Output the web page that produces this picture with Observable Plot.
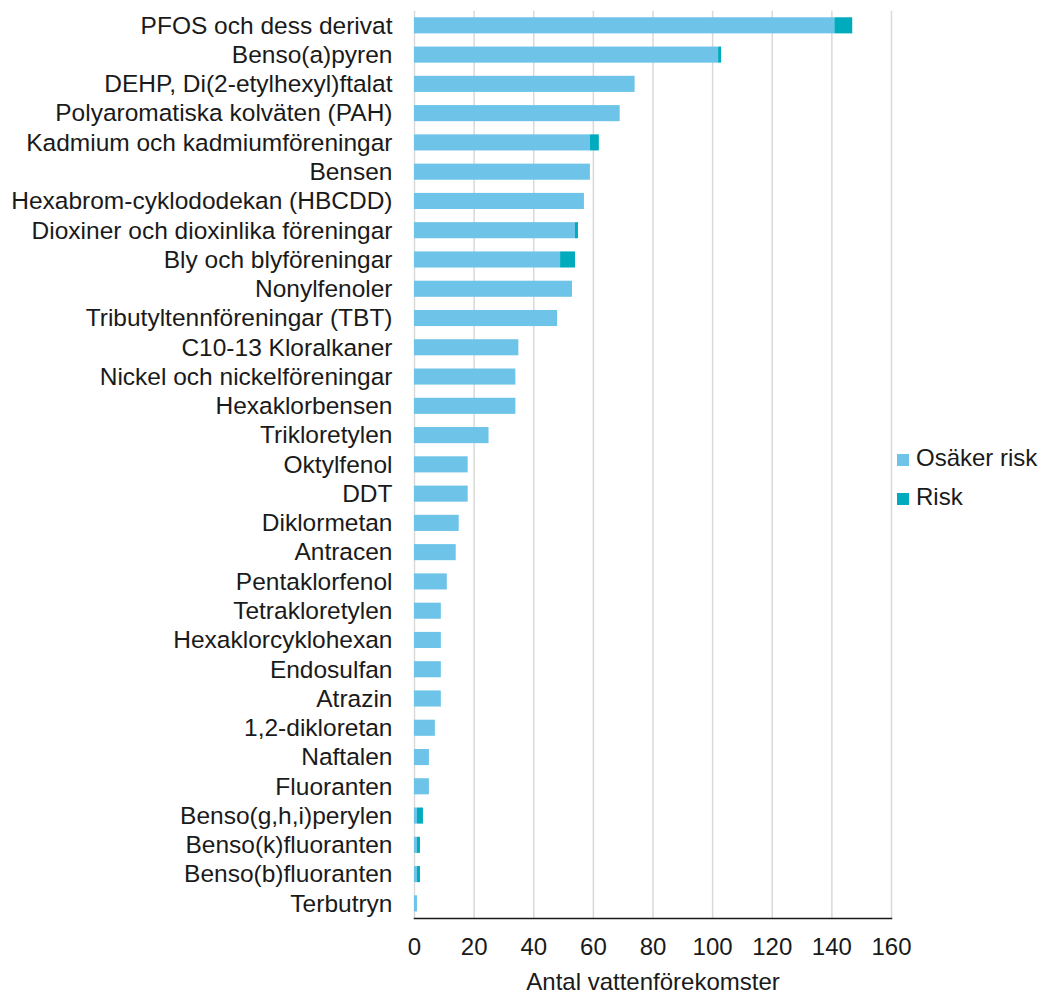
<!DOCTYPE html>
<html>
<head>
<meta charset="utf-8">
<script src="https://cdn.jsdelivr.net/npm/d3@7"></script>
<script src="https://cdn.jsdelivr.net/npm/@observablehq/plot@0.6"></script>
<style>
  html, body { margin: 0; padding: 0; background: #fff; }
  #wrap { position: relative; width: 1045px; height: 994px; font-family: "Liberation Sans", Arial, sans-serif; color: #1a1a1a; }
  #legend { position: absolute; left: 897px; top: 438px; font-size: 24px; line-height: 39px; }
  #legend .item { display: flex; align-items: center; height: 39px; }
  #legend .sw { width: 12px; height: 12px; margin-right: 7px; display: inline-block; position: relative; top: 2px; }
</style>
</head>
<body>
<div id="wrap"></div>
<script>
const categories = [
  "PFOS och dess derivat", "Benso(a)pyren", "DEHP, Di(2-etylhexyl)ftalat",
  "Polyaromatiska kolväten (PAH)", "Kadmium och kadmiumföreningar", "Bensen",
  "Hexabrom-cyklododekan (HBCDD)", "Dioxiner och dioxinlika föreningar",
  "Bly och blyföreningar", "Nonylfenoler", "Tributyltennföreningar (TBT)",
  "C10-13 Kloralkaner", "Nickel och nickelföreningar", "Hexaklorbensen",
  "Trikloretylen", "Oktylfenol", "DDT", "Diklormetan", "Antracen",
  "Pentaklorfenol", "Tetrakloretylen", "Hexaklorcyklohexan", "Endosulfan",
  "Atrazin", "1,2-dikloretan", "Naftalen", "Fluoranten",
  "Benso(g,h,i)perylen", "Benso(k)fluoranten", "Benso(b)fluoranten", "Terbutryn"
];
const osakerRisk = [141, 102, 74, 69, 59, 59, 57, 54, 49, 53, 48, 35, 34, 34, 25, 18, 18, 15, 14, 11, 9, 9, 9, 9, 7, 5, 5, 1, 1, 1, 1];
const risk       = [6,   1,   0,  0,  3,  0,  0,  1,  5,  0,  0,  0,  0,  0,  0,  0,  0,  0,  0,  0,  0, 0, 0, 0, 0, 0, 0, 2, 1, 1, 0];
const seriesNames = ["Osäker risk", "Risk"];
const seriesColors = ["#6dc4e8", "#00abbd"];
const xTicks = [0, 20, 40, 60, 80, 100, 120, 140, 160];
const xLabel = "Antal vattenförekomster";

const table = [];
categories.forEach((c, i) => table.push({name: c, series: seriesNames[0], value: osakerRisk[i]}));
categories.forEach((c, i) => table.push({name: c, series: seriesNames[1], value: risk[i]}));

const chart = Plot.plot({
  width: 1045,
  height: 994,
  marginLeft: 414,
  marginRight: 154,
  marginTop: 10.7,
  marginBottom: 76,
  style: {fontFamily: "'Liberation Sans', Arial, sans-serif", fontSize: "24px", color: "#1a1a1a", background: "#fff"},
  x: {domain: [0, 160], ticks: xTicks},
  y: {domain: categories, paddingInner: 0.45, paddingOuter: 0.225, round: false},
  color: {domain: seriesNames, range: seriesColors},
  marks: [
    Plot.gridX(xTicks, {stroke: "#d9d9d9", strokeOpacity: 1, strokeWidth: 1.5}),
    Plot.barX(table, {y: "name", x: "value", fill: "series", order: seriesNames}),
    Plot.frame({anchor: "bottom", stroke: "#1a1a1a", strokeWidth: 1.5}),
    Plot.axisY({tickSize: 0, tickPadding: 22, label: null, fontSize: 24.5}),
    Plot.axisX({ticks: xTicks, tickSize: 0, tickPadding: 19, label: null, fontSize: 24}),
    Plot.text([xLabel], {text: d => d, frameAnchor: "bottom", dy: 63.5, lineAnchor: "middle", fontSize: 24, fill: "#1a1a1a"})
  ]
});
document.getElementById("wrap").appendChild(chart);

const legend = document.createElement("div");
legend.id = "legend";
seriesNames.forEach((s, i) => {
  const item = document.createElement("div");
  item.className = "item";
  const sw = document.createElement("span");
  sw.className = "sw";
  sw.style.background = seriesColors[i];
  const t = document.createElement("span");
  t.textContent = s;
  item.appendChild(sw);
  item.appendChild(t);
  legend.appendChild(item);
});
document.getElementById("wrap").appendChild(legend);
</script>
</body>
</html>
